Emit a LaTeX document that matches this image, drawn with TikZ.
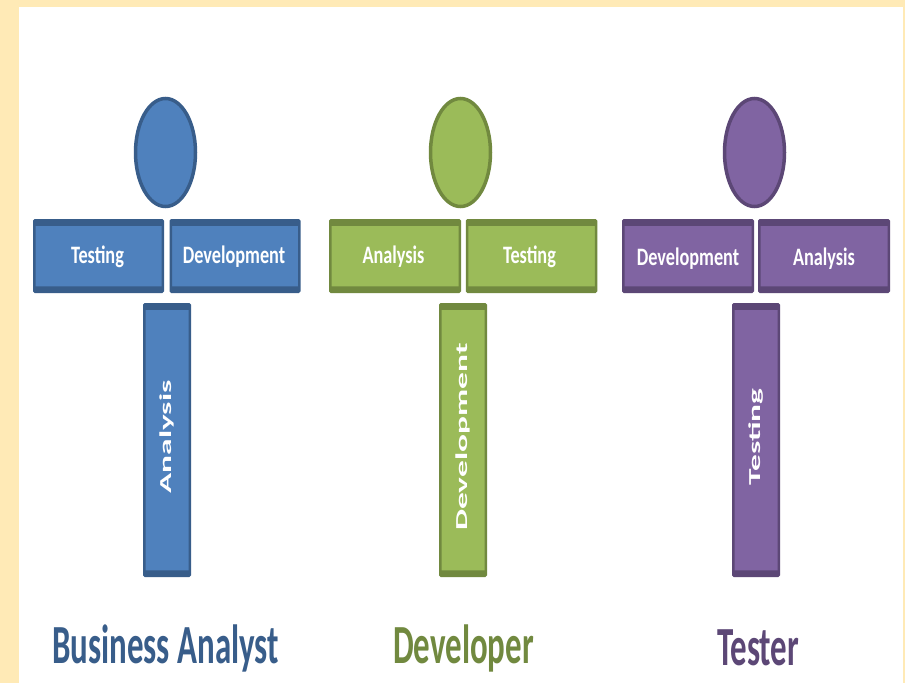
\documentclass[tikz,border=0pt]{standalone}
\usepackage{fontspec}
\usepackage{graphicx}
\setmainfont{Carlito}
\usetikzlibrary{shapes.geometric}
\definecolor{bgy}{HTML}{FFEAB6}
\definecolor{blueM}{HTML}{4F81BD}\definecolor{blueD}{HTML}{385D8A}
\definecolor{greenM}{HTML}{9BBB59}\definecolor{greenD}{HTML}{71893F}
\definecolor{purpM}{HTML}{8064A2}\definecolor{purpD}{HTML}{5C4776}
\newcommand{\hl}[1]{\scalebox{0.83}[1.14]{\bfseries\fontsize{22}{24}\selectfont #1}}
\newcommand{\vl}[1]{\hspace*{6pt}\scalebox{1.76}[0.88]{\bfseries\fontsize{19}{22}\selectfont #1}}
\newcommand{\ttl}[1]{\scalebox{0.715}[1.2]{\bfseries\fontsize{46}{50}\selectfont #1}}
\tikzset{
  x=1pt,y=-1pt,
  every node/.style={inner sep=0pt,outer sep=0pt},
  bar/.style n args={3}{rectangle,rounded corners=1pt,minimum width=#1,minimum height=#2,
    fill=#3M,draw=#3D,line width=2.5pt,text=white,
    path picture={\fill[#3D] (path picture bounding box.north west) rectangle ([yshift=-5.5pt]path picture bounding box.north east);
      \fill[#3D] (path picture bounding box.south west) rectangle ([yshift=5.5pt]path picture bounding box.south east);}},
  head/.style={ellipse,minimum width=60pt,minimum height=108pt,fill=#1M,draw=#1D,line width=3.5pt},
  title/.style={anchor=base,text=#1D},
}
\begin{document}
\begin{tikzpicture}
\useasboundingbox (0,0) rectangle (905,683);
\fill[bgy] (0,0) rectangle (905,683);
\fill[white] (19,7) rectangle (903,683);
% Business Analyst
\node[head=blue] (h1) at (165.5,152.5) {};
\node[bar={128.5pt}{71.5pt}{blue}] (a1) at (98.5,256) {\rule{0pt}{19pt}\hl{Testing}\hspace*{2pt}};
\node[bar={128.5pt}{71.5pt}{blue}] (b1) at (235,256) {\rule{0pt}{19pt}\hl{Development}\hspace*{2pt}};
\node[bar={45.5pt}{271.5pt}{blue}] (c1) at (167,440) {\rotatebox{90}{\vl{Analysis}}};
\node[title=blue] (t1) at (165.5,663) {\ttl{Business Analyst}};
% Developer
\node[head=green] (h2) at (460.5,152.5) {};
\node[bar={129.5pt}{71.5pt}{green}] (a2) at (395,256) {\rule{0pt}{19pt}\hl{Analysis}\hspace*{3pt}};
\node[bar={129pt}{71.5pt}{green}] (b2) at (531.5,256) {\rule{0pt}{19pt}\hl{Testing}\hspace*{4pt}};
\node[bar={45.5pt}{271.5pt}{green}] (c2) at (463,440) {\rotatebox{90}{\vl{Development}}};
\node[title=green] (t2) at (463.5,663) {\ttl{Developer}};
% Tester
\node[head=purp] (h3) at (754.5,152.5) {};
\node[bar={129.5pt}{71.5pt}{purp}] (a3) at (688,256) {\rule{0pt}{22pt}\hl{Development}};
\node[bar={129.5pt}{71.5pt}{purp}] (b3) at (824,256) {\rule{0pt}{22pt}\hl{Analysis}};
\node[bar={45.5pt}{271.5pt}{purp}] (c3) at (756,440) {\rotatebox{90}{\vl{Testing}}};
\node[title=purp] (t3) at (758,665) {\ttl{Tester}};
\end{tikzpicture}
\end{document}
